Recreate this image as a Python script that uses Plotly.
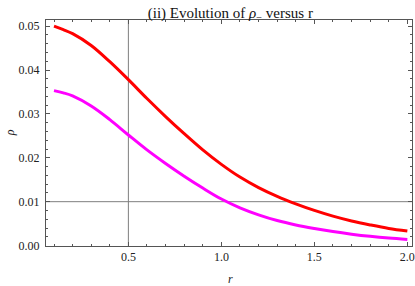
import plotly.graph_objects as go

# Data
r_vals = [0.1, 0.15, 0.2, 0.3, 0.4, 0.5, 0.6, 0.7, 0.8, 0.9, 1.0,
          1.1, 1.2, 1.3, 1.4, 1.5, 1.6, 1.7, 1.8, 1.9, 2.0]
rho_red = [0.0500, 0.0492, 0.0483, 0.0456, 0.0419, 0.0378, 0.0335, 0.0294, 0.0255, 0.0218, 0.0185,
           0.0156, 0.0132, 0.0112, 0.0095, 0.0080, 0.0067, 0.0056, 0.0047, 0.0039, 0.0033]
rho_magenta = [0.0353, 0.0348, 0.0341, 0.0318, 0.0287, 0.0252, 0.0218, 0.0187, 0.0158, 0.0131, 0.0106,
               0.0086, 0.0070, 0.0057, 0.0047, 0.0039, 0.0032, 0.0026, 0.0021, 0.0017, 0.0014]

x_ticks = [0.5, 1.0, 1.5, 2.0]
x_tick_labels = ["0.5", "1.0", "1.5", "2.0"]
y_ticks = [0.00, 0.01, 0.02, 0.03, 0.04, 0.05]
y_tick_labels = ["0.00", "0.01", "0.02", "0.03", "0.04", "0.05"]
axes_origin = (0.5, 0.01)

serif = "Liberation Serif, Times New Roman, serif"

fig = go.Figure()
fig.add_trace(go.Scatter(x=r_vals, y=rho_red, mode="lines",
                         line=dict(color="#FF0000", width=3, shape="spline", smoothing=1.0),
                         showlegend=False))
fig.add_trace(go.Scatter(x=r_vals, y=rho_magenta, mode="lines",
                         line=dict(color="#FF00FF", width=3, shape="spline", smoothing=1.0),
                         showlegend=False))

# Mathematica-style axes crossing inside the frame
fig.add_shape(type="line", xref="x", yref="paper", x0=axes_origin[0], x1=axes_origin[0],
              y0=0, y1=1, line=dict(color="#7f7f7f", width=1), layer="below")
fig.add_shape(type="line", xref="paper", yref="y", x0=0, x1=1,
              y0=axes_origin[1], y1=axes_origin[1], line=dict(color="#7f7f7f", width=1), layer="below")

axis_common = dict(
    showgrid=False, zeroline=False, showline=True, linecolor="#555555", linewidth=1,
    mirror="ticks", ticks="inside", ticklen=4, tickcolor="#555555", tickwidth=1,
    tickfont=dict(family=serif, size=12, color="#222222"), automargin=False,
)

fig.update_xaxes(
    range=[0.057, 2.025], tickvals=x_ticks, ticktext=x_tick_labels,
    minor=dict(ticks="inside", ticklen=2, dtick=0.1, tick0=0, tickcolor="#555555", showgrid=False),
    ticklabelstandoff=0,
    **axis_common,
)
fig.update_yaxes(
    range=[-0.0001, 0.0514], tickvals=y_ticks, ticktext=y_tick_labels,
    minor=dict(ticks="inside", ticklen=2, dtick=0.002, tick0=0, tickcolor="#555555", showgrid=False),
    ticklabelstandoff=3,
    **axis_common,
)

# Axis titles placed as annotations
fig.add_annotation(text="<i>r</i>", xref="paper", yref="paper", x=0.503, y=-0.146,
                   xanchor="center", yanchor="middle", showarrow=False,
                   font=dict(family=serif, size=12, color="#222222"))
fig.add_annotation(text="<i>ρ</i>", xref="paper", yref="paper", x=-0.098, y=0.5,
                   xanchor="center", yanchor="middle", showarrow=False, textangle=-90,
                   font=dict(family=serif, size=12, color="#222222"))

fig.update_layout(
    width=415, height=286,
    margin=dict(l=46, r=3, t=20, b=40),
    paper_bgcolor="white", plot_bgcolor="white",
    title=dict(text="(ii) Evolution of <i>ρ</i><sub>−</sub> versus r",
               font=dict(family=serif, size=15, color="#111111"),
               x=0.555, xanchor="center", yref="container", y=0.955, yanchor="middle"),
)

fig.write_html("out.html", config={"displayModeBar": False},
               post_script="document.body.style.margin='0';")
